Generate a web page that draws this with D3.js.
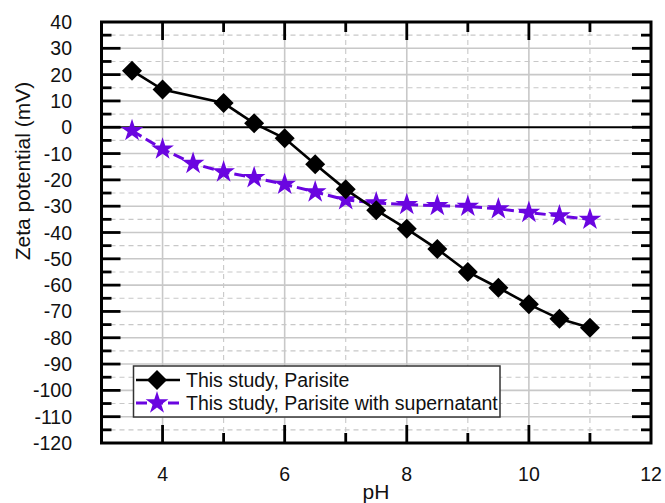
<!DOCTYPE html>
<html>
<head>
<meta charset="utf-8">
<script src="https://cdn.jsdelivr.net/npm/d3@7/dist/d3.min.js"></script>
<style>
  html, body { margin: 0; padding: 0; background: #fff; }
  svg { display: block; font-family: "Liberation Sans", Arial, sans-serif; }
</style>
</head>
<body>
<svg id="chart" width="665" height="503"></svg>
<script>
// ---- data ----
const phParisite = [3.5, 4, 5, 5.5, 6, 6.5, 7, 7.5, 8, 8.5, 9, 9.5, 10, 10.5, 11];
const zetaParisite = [21.5, 14.3, 9.2, 1.5, -4.2, -14.1, -23.6, -31.5, -38.6, -46.3, -55.0, -61.0, -67.3, -72.8, -76.2];
const phSuper = [3.5, 4, 4.5, 5, 5.5, 6, 6.5, 7, 7.5, 8, 8.5, 9, 9.5, 10, 10.5, 11];
const zetaSuper = [-1.3, -8.3, -13.8, -17.0, -19.2, -21.7, -24.6, -27.6, -28.8, -29.4, -29.8, -30.1, -31.0, -32.4, -33.7, -35.0];
const xTickLabels = [4, 6, 8, 10, 12];
const yTickLabels = [40, 30, 20, 10, 0, -10, -20, -30, -40, -50, -60, -70, -80, -90, -100, -110, -120];
const seriesNames = ["This study, Parisite", "This study, Parisite with supernatant"];

const svg = d3.select("#chart");
const L = 101.5, R = 651, T = 22, B = 443;
const x = d3.scaleLinear().domain([3, 12]).range([L, R]);
const y = d3.scaleLinear().domain([-120, 40]).range([B, T]);
const purple = "#6a05e0";

// grid
const g = svg.append("g");
const xMinor = d3.range(3, 12.01, 1);
xMinor.forEach(v => {
  if (v === 3 || v === 12) return;
  const major = v % 2 === 0;
  g.append("line").attr("x1", x(v)).attr("x2", x(v)).attr("y1", T).attr("y2", B)
    .attr("stroke", "#c8c8c8").attr("stroke-width", major ? 1.6 : 1.1)
    .attr("stroke-dasharray", major ? null : "5,4");
});
const yMinor = d3.range(-120, 40.01, 5);
yMinor.forEach(v => {
  if (v === -120 || v === 40 || v === 0) return;
  const major = v % 10 === 0;
  g.append("line").attr("x1", L).attr("x2", R).attr("y1", y(v)).attr("y2", y(v))
    .attr("stroke", "#c8c8c8").attr("stroke-width", major ? 1.6 : 1.1)
    .attr("stroke-dasharray", major ? null : "5,4");
});
// zero line
g.append("line").attr("x1", L).attr("x2", R).attr("y1", y(0)).attr("y2", y(0))
  .attr("stroke", "#000").attr("stroke-width", 2.2);

// axes with inward ticks
function tickAxes() {
  const ax = svg.append("g");
  const tw = 2.8;
  xMinor.forEach(v => {
    if (v === 3 || v === 12) return;
    const len = v % 2 === 0 ? 18 : 10;
    ax.append("line").attr("x1", x(v)).attr("x2", x(v)).attr("y1", B).attr("y2", B - len).attr("stroke", "#000").attr("stroke-width", tw);
    ax.append("line").attr("x1", x(v)).attr("x2", x(v)).attr("y1", T).attr("y2", T + len).attr("stroke", "#000").attr("stroke-width", tw);
  });
  yMinor.forEach(v => {
    if (v === -120 || v === 40) return;
    const len = v % 10 === 0 ? 19 : 10;
    ax.append("line").attr("x1", L).attr("x2", L + len).attr("y1", y(v)).attr("y2", y(v)).attr("stroke", "#000").attr("stroke-width", tw);
    ax.append("line").attr("x1", R).attr("x2", R - len).attr("y1", y(v)).attr("y2", y(v)).attr("stroke", "#000").attr("stroke-width", tw);
  });
  ax.append("rect").attr("x", L).attr("y", T).attr("width", R - L).attr("height", B - T)
    .attr("fill", "none").attr("stroke", "#000").attr("stroke-width", 3);
}

// lines
const lineGen = d3.line().x(d => x(d[0])).y(d => y(d[1]));
const superData = phSuper.map((p, i) => [p, zetaSuper[i]]);
const parData = phParisite.map((p, i) => [p, zetaParisite[i]]);

svg.append("path").datum(superData).attr("d", lineGen).attr("fill", "none")
  .attr("stroke", purple).attr("stroke-width", 3).attr("stroke-dasharray", "11,5");
const star = d3.symbol().type(d3.symbolStar).size(160);
svg.append("g").selectAll("path").data(superData).join("path")
  .attr("d", star).attr("transform", d => `translate(${x(d[0])},${y(d[1])})`)
  .attr("fill", purple);

svg.append("path").datum(parData).attr("d", lineGen).attr("fill", "none")
  .attr("stroke", "#000").attr("stroke-width", 2.6);
const diamond = d3.symbol().type(d3.symbolSquare).size(200);
svg.append("g").selectAll("path").data(parData).join("path")
  .attr("d", diamond).attr("transform", d => `translate(${x(d[0])},${y(d[1])}) rotate(45)`)
  .attr("fill", "#000");

tickAxes();

// tick labels
svg.append("g").selectAll("text").data(xTickLabels).join("text")
  .attr("x", d => x(d)).attr("y", 481).attr("text-anchor", "middle")
  .attr("font-size", 19.5).attr("fill", "#111").text(d => d);
svg.append("g").selectAll("text").data(yTickLabels).join("text")
  .attr("x", 72).attr("y", d => y(d)).attr("dy", "0.36em").attr("text-anchor", "end")
  .attr("font-size", 19.5).attr("fill", "#111").text(d => d);

// axis titles
svg.append("text").attr("x", 376).attr("y", 499).attr("text-anchor", "middle")
  .attr("font-size", 21).attr("fill", "#111").text("pH");
svg.append("text").attr("transform", "translate(30,171) rotate(-90)").attr("text-anchor", "middle")
  .attr("font-size", 21).attr("fill", "#111").text("Zeta potential (mV)");

// legend
const lg = svg.append("g");
lg.append("rect").attr("x", 133.5).attr("y", 366).attr("width", 366.5).attr("height", 51)
  .attr("fill", "#fff").attr("stroke", "#333").attr("stroke-width", 1.5);
const rows = [
  { y: 380, color: "#000", dash: null, sym: diamond, rot: 45, name: seriesNames[0] },
  { y: 403, color: purple, dash: "11,5", sym: star, rot: 0, name: seriesNames[1] }
];
rows.forEach(r => {
  lg.append("line").attr("x1", 136).attr("x2", 180).attr("y1", r.y).attr("y2", r.y)
    .attr("stroke", r.color).attr("stroke-width", r.color === "#000" ? 2.6 : 3).attr("stroke-dasharray", r.dash);
  lg.append("path").attr("d", r.sym).attr("fill", r.color)
    .attr("transform", `translate(157,${r.y}) rotate(${r.rot})`);
  lg.append("text").attr("x", 186).attr("y", r.y).attr("dy", "0.36em")
    .attr("font-size", 19.5).attr("fill", "#111").text(r.name);
});
</script>
</body>
</html>
